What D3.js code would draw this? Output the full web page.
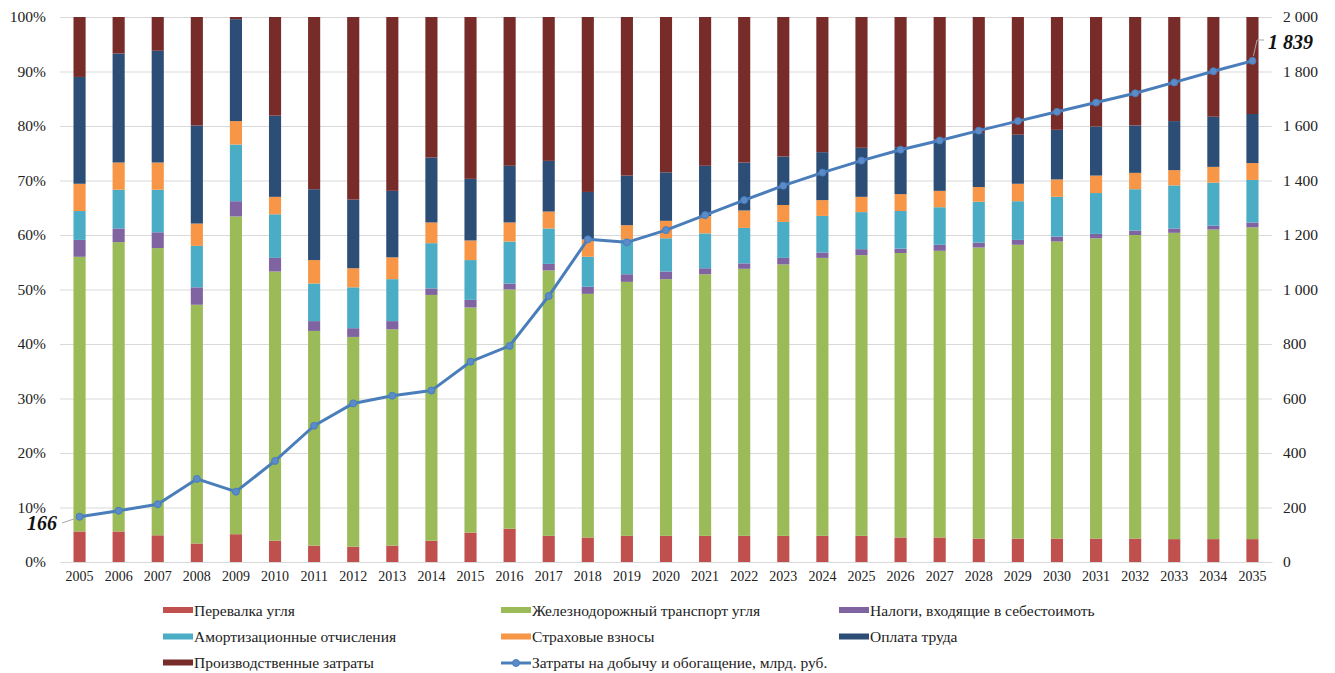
<!DOCTYPE html>
<html>
<head>
<meta charset="utf-8">
<script src="https://cdn.jsdelivr.net/npm/d3@7"></script>
<style>
  html, body { margin: 0; padding: 0; background: #fff; }
  svg { display: block; font-family: "Liberation Serif", "Times New Roman", serif; }
</style>
</head>
<body>
<svg id="chart" width="1335" height="673"></svg>
<script>
// Years on the category axis
const years = ["2005","2006","2007","2008","2009","2010","2011","2012","2013","2014","2015","2016","2017","2018","2019","2020","2021","2022","2023","2024","2025","2026","2027","2028","2029","2030","2031","2032","2033","2034","2035"];

// Cost structure, % of total per year
const perevalka      = [5.6,5.6,4.9,3.4,5.1,3.9,3.0,2.8,3.0,3.9,5.4,6.1,4.8,4.5,4.8,4.8,4.8,4.8,4.8,4.8,4.8,4.5,4.5,4.3,4.3,4.3,4.3,4.3,4.2,4.2,4.2];
const zhdTransport   = [50.4,53.1,52.7,43.8,58.3,49.4,39.4,38.5,39.7,45.1,41.3,43.9,48.7,44.7,46.6,47.1,48.0,49.0,49.8,51.0,51.5,52.2,52.6,53.4,53.9,54.5,55.1,55.7,56.2,56.8,57.2];
const nalogi         = [3.1,2.5,2.9,3.2,2.8,2.5,1.8,1.6,1.5,1.2,1.4,1.1,1.2,1.3,1.4,1.4,1.1,1.0,1.2,1.0,1.1,0.8,1.1,0.9,0.9,0.9,0.8,0.8,0.8,0.7,0.9];
const amortizatsiya  = [5.3,7.1,7.8,7.6,10.4,8.0,6.9,7.5,7.7,8.3,7.3,7.7,6.5,5.5,6.4,6.1,6.4,6.5,6.6,6.7,6.8,6.9,6.9,7.5,7.1,7.3,7.5,7.6,7.9,7.9,7.8];
const strakhovye     = [5.0,5.0,5.0,4.1,4.3,3.2,4.3,3.5,4.0,3.8,3.6,3.5,3.1,3.2,2.6,3.2,3.2,3.2,3.1,2.9,2.8,3.1,3.0,2.7,3.2,3.2,3.2,3.0,2.8,2.9,3.1];
const oplataTruda    = [19.6,20.0,20.5,18.0,18.7,14.9,13.0,12.6,12.2,11.9,11.3,10.4,9.3,8.7,9.1,8.9,9.2,8.8,8.9,8.8,9.0,8.6,9.4,9.9,9.0,9.1,9.0,8.7,9.0,9.2,9.0];
const proizvodstvo   = [11.0,6.7,6.2,19.9,0.4,18.1,31.6,33.5,31.9,25.8,29.7,27.3,26.4,32.1,29.1,28.5,27.3,26.7,25.6,24.8,24.0,23.9,22.5,21.3,21.6,20.7,20.1,19.9,19.1,18.3,17.8];

// Total mining and processing costs, bn roubles (right axis)
const zatraty = [166,188,212,305,258,371,500,582,610,629,735,793,976,1184,1173,1218,1273,1328,1381,1429,1473,1513,1547,1583,1618,1652,1686,1720,1760,1801,1839];

// Tick values
const leftTicks  = [0,0.1,0.2,0.3,0.4,0.5,0.6,0.7,0.8,0.9,1.0];
const rightTicks = [0,200,400,600,800,1000,1200,1400,1600,1800,2000];

// Series names and colours
const seriesKeys   = ["perevalka","zhd","nalogi","amort","strakh","oplata","proizv"];
const seriesNames  = ["Перевалка угля","Железнодорожный транспорт угля","Налоги, входящие в себестоимоть","Амортизационные отчисления","Страховые взносы","Оплата труда","Производственные затраты"];
const seriesColors = ["#C0504D","#9BBB59","#8064A2","#4BACC6","#F79646","#2C4D75","#772C2A"];
const lineName  = "Затраты на добычу и обогащение, млрд. руб.";
const lineColor = "#4A7EBB";

const seriesValues = [perevalka, zhdTransport, nalogi, amortizatsiya, strakhovye, oplataTruda, proizvodstvo];
const rows = years.map((y, i) => {
  const r = { year: y };
  seriesKeys.forEach((k, j) => { r[k] = seriesValues[j][i]; });
  return r;
});

const svg = d3.select("#chart");
const plotLeft = 60, plotRight = 1272, plotTop = 17, plotBottom = 562;

const x = d3.scaleBand().domain(years).range([plotLeft, plotRight]).paddingInner(0.69).paddingOuter(0.345);
const yL = d3.scaleLinear().domain([0, 1]).range([plotBottom, plotTop]);
const yR = d3.scaleLinear().domain([0, 2000]).range([plotBottom, plotTop]);

const ru = d3.formatLocale({ decimal: ",", thousands: "\u00a0", grouping: [3], currency: ["", ""] });

// Gridlines
svg.append("g")
  .attr("transform", `translate(${plotLeft},0)`)
  .call(d3.axisLeft(yL).tickValues(leftTicks.slice(1)).tickSize(-(plotRight - plotLeft)).tickFormat(""))
  .call(g => g.select(".domain").remove())
  .call(g => g.selectAll("line").attr("stroke", "#D9D9D9").attr("stroke-width", 1));

// Stacked bars
const stack = d3.stack().keys(seriesKeys).offset(d3.stackOffsetExpand);
const layers = stack(rows);
svg.append("g").selectAll("g")
  .data(layers)
  .join("g")
  .attr("fill", (d, i) => seriesColors[i])
  .selectAll("rect")
  .data(d => d)
  .join("rect")
  .attr("x", d => x(d.data.year))
  .attr("width", x.bandwidth())
  .attr("y", d => yL(d[1]))
  .attr("height", d => yL(d[0]) - yL(d[1]));

// Category axis
svg.append("g")
  .attr("transform", `translate(0,${plotBottom})`)
  .call(d3.axisBottom(x).tickSize(0).tickPadding(9))
  .call(g => g.select(".domain").attr("stroke", "#D9D9D9"))
  .call(g => g.selectAll("text").attr("font-size", 14).attr("fill", "#222").attr("font-family", "Liberation Serif"));

// Left axis (%)
svg.append("g")
  .attr("transform", `translate(${plotLeft},0)`)
  .call(d3.axisLeft(yL).tickValues(leftTicks).tickSize(0).tickPadding(14).tickFormat(d3.format(".0%")))
  .call(g => g.select(".domain").remove())
  .call(g => g.selectAll("text").attr("font-size", 15.5).attr("fill", "#222").attr("font-family", "Liberation Serif"));

// Right axis (bn roubles)
svg.append("g")
  .attr("transform", `translate(${plotRight},0)`)
  .call(d3.axisRight(yR).tickValues(rightTicks).tickSize(0).tickPadding(11).tickFormat(ru.format(",")))
  .call(g => g.select(".domain").remove())
  .call(g => g.selectAll("text").attr("font-size", 15.5).attr("fill", "#222").attr("font-family", "Liberation Serif"));

// Cost line with markers
const cx = (i) => x(years[i]) + x.bandwidth() / 2;
const line = d3.line().x((d, i) => cx(i)).y(d => yR(d));
svg.append("path")
  .datum(zatraty)
  .attr("d", line)
  .attr("fill", "none")
  .attr("stroke", lineColor)
  .attr("stroke-width", 3)
  .attr("stroke-linejoin", "round");
svg.append("g").selectAll("circle")
  .data(zatraty)
  .join("circle")
  .attr("cx", (d, i) => cx(i))
  .attr("cy", d => yR(d))
  .attr("r", 3.5)
  .attr("fill", "#5B8BC9")
  .attr("stroke", lineColor)
  .attr("stroke-width", 1);

// End value labels with leader lines
const firstIdx = 0, lastIdx = zatraty.length - 1;
svg.append("line")
  .attr("x1", 62).attr("y1", 523)
  .attr("x2", cx(firstIdx) - 5).attr("y2", yR(zatraty[firstIdx]) + 2)
  .attr("stroke", "#A6A6A6").attr("stroke-width", 1);
svg.append("text")
  .attr("x", 57).attr("y", 530)
  .attr("text-anchor", "end")
  .attr("font-size", 20).attr("font-weight", "bold").attr("font-style", "italic")
  .attr("fill", "#111")
  .text(ru.format(",")(zatraty[firstIdx]));
svg.append("line")
  .attr("x1", cx(lastIdx) + 1).attr("y1", yR(zatraty[lastIdx]) - 5)
  .attr("x2", 1257).attr("y2", 40)
  .attr("stroke", "#A6A6A6").attr("stroke-width", 1);
svg.append("line")
  .attr("x1", 1257).attr("y1", 40)
  .attr("x2", 1264).attr("y2", 40)
  .attr("stroke", "#A6A6A6").attr("stroke-width", 1);
svg.append("text")
  .attr("x", 1268).attr("y", 48.5)
  .attr("font-size", 20).attr("font-weight", "bold").attr("font-style", "italic")
  .attr("fill", "#111")
  .text(ru.format(",")(zatraty[lastIdx]));

// Legend
const legendItems = [
  { name: seriesNames[0], color: seriesColors[0] },
  { name: seriesNames[1], color: seriesColors[1] },
  { name: seriesNames[2], color: seriesColors[2] },
  { name: seriesNames[3], color: seriesColors[3] },
  { name: seriesNames[4], color: seriesColors[4] },
  { name: seriesNames[5], color: seriesColors[5] },
  { name: seriesNames[6], color: seriesColors[6] },
  { name: lineName, color: lineColor, line: true }
];
const colX = [163, 501, 839];
const rowY = [610.5, 637, 663];
const lg = svg.append("g").selectAll("g")
  .data(legendItems)
  .join("g")
  .attr("transform", (d, i) => `translate(${colX[i % 3]},${rowY[Math.floor(i / 3)]})`);
lg.filter(d => !d.line).append("rect")
  .attr("x", 0).attr("y", -3.5).attr("width", 30).attr("height", 6)
  .attr("fill", d => d.color);
lg.filter(d => d.line).append("line")
  .attr("x1", 0).attr("x2", 30).attr("y1", 0).attr("y2", 0)
  .attr("stroke", d => d.color).attr("stroke-width", 3);
lg.filter(d => d.line).append("circle")
  .attr("cx", 15).attr("cy", 0).attr("r", 3.5)
  .attr("fill", "#5B8BC9").attr("stroke", d => d.color);
lg.append("text")
  .attr("x", 31).attr("y", 5)
  .attr("font-size", 15.5).attr("fill", "#222")
  .text(d => d.name);
</script>
</body>
</html>
